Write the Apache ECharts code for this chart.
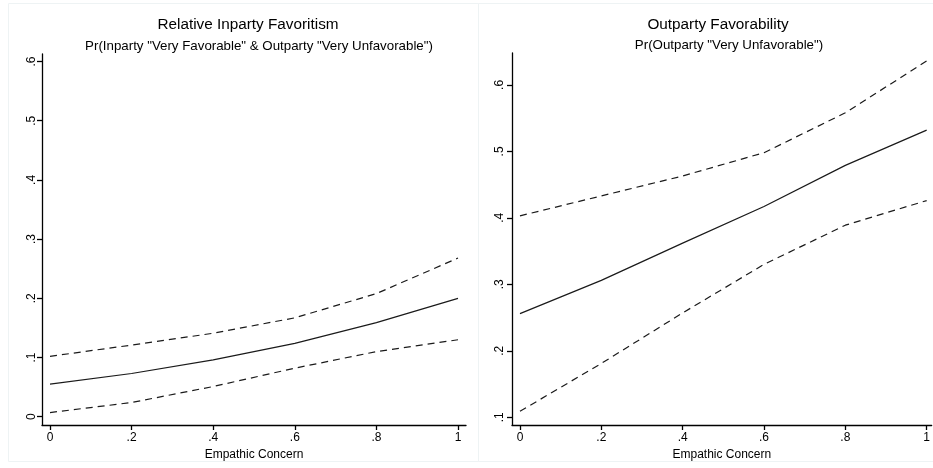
<!DOCTYPE html>
<html>
<head>
<meta charset="utf-8">
<script src="https://cdn.jsdelivr.net/npm/echarts@6/dist/echarts.min.js"></script>
<style>
html,body{margin:0;padding:0;background:#fff;}
#c{width:933px;height:468px;}
</style>
</head>
<body>
<div id="c"></div>
<script>
// Data
const xValues = [0, 0.2, 0.4, 0.6, 0.8, 1];
const xTicks = [0, 0.2, 0.4, 0.6, 0.8, 1];
const xTickLabels = ['0', '.2', '.4', '.6', '.8', '1'];

const leftEst   = [0.055, 0.073, 0.096, 0.124, 0.159, 0.200];
const leftUpper = [0.102, 0.121, 0.141, 0.167, 0.208, 0.268];
const leftLower = [0.007, 0.024, 0.051, 0.082, 0.110, 0.130];
const leftYTicks = [0, 0.1, 0.2, 0.3, 0.4, 0.5, 0.6];

const rightEst   = [0.256, 0.306, 0.362, 0.417, 0.479, 0.532];
const rightUpper = [0.403, 0.433, 0.463, 0.498, 0.558, 0.636];
const rightLower = [0.109, 0.181, 0.257, 0.330, 0.389, 0.426];
const rightYTicks = [0.1, 0.2, 0.3, 0.4, 0.5, 0.6];

const titles = ['Relative Inparty Favoritism', 'Outparty Favorability'];
const subtitles = ['Pr(Inparty "Very Favorable" & Outparty "Very Unfavorable")', 'Pr(Outparty "Very Unfavorable")'];
const xName = 'Empathic Concern';

function fmt(v){
  if (Math.abs(v) < 1e-9) return '0';
  if (Math.abs(v - 1) < 1e-9) return '1';
  return ('' + (Math.round(v*10)/10)).replace(/^0/, '');
}
const FONT = '"Liberation Sans", Arial, Helvetica, sans-serif';
const axisLineStyle = {color:'#000', width:1.3};

function xAxis(idx){
  return {
    type:'value', gridIndex: idx, min:-0.0196, max: idx===0 ? 1.0196 : 1.0123,
    name: xName, nameLocation:'middle', nameGap: 19,
    nameTextStyle:{fontFamily:FONT, fontSize:12, color:'#000'},
    axisLine:{show:true, onZero:false, lineStyle:axisLineStyle},
    axisTick:{show:true, length:5, lineStyle:axisLineStyle, customValues:xTicks},
    axisLabel:{fontFamily:FONT, fontSize:12, color:'#000', margin:7, customValues:xTicks,
      formatter: v => xTickLabels[xTicks.findIndex(t => Math.abs(t - v) < 1e-6)] ?? fmt(v)},
    splitLine:{show:false}
  };
}
function yAxis(idx, min, max, ticks, margin){
  return {
    type:'value', gridIndex: idx, min:min, max:max,
    axisLine:{show:true, onZero:false, lineStyle:axisLineStyle},
    axisTick:{show:true, length:5, lineStyle:axisLineStyle, customValues:ticks},
    axisLabel:{fontFamily:FONT, fontSize:12, color:'#000', margin:margin, rotate:90, customValues:ticks,
      formatter: v => fmt(v)},
    splitLine:{show:false}
  };
}
function line(idx, vals, dashed){
  return {
    type:'line', xAxisIndex:idx, yAxisIndex:idx,
    data: xValues.map((x,i)=>[x, vals[i]]),
    showSymbol:false, symbol:'none', silent:true, animation:false,
    lineStyle:{color:'#1a1a1a', width:1.2, type: dashed ? [7,5] : 'solid'}
  };
}

const chart = echarts.init(document.getElementById('c'), null, {renderer:'canvas'});
chart.setOption({
  backgroundColor:'#fff',
  animation:false,
  title:[
    {text:titles[0], left:243, top:12, textAlign:'center', textStyle:{fontFamily:FONT, fontSize:15.3, fontWeight:'normal', color:'#000'}},
    {text:subtitles[0], left:254, top:35, textAlign:'center', textStyle:{fontFamily:FONT, fontSize:13.3, fontWeight:'normal', color:'#000'}},
    {text:titles[1], left:713, top:12, textAlign:'center', textStyle:{fontFamily:FONT, fontSize:15.3, fontWeight:'normal', color:'#000'}},
    {text:subtitles[1], left:724, top:34, textAlign:'center', textStyle:{fontFamily:FONT, fontSize:13.3, fontWeight:'normal', color:'#000'}}
  ],
  graphic:[
    {type:'rect', shape:{x:8.5, y:3.5, width:470, height:458}, style:{fill:'none', stroke:'#eef3f4', lineWidth:1}, silent:true, z:-1},
    {type:'rect', shape:{x:478.5, y:3.5, width:470, height:458}, style:{fill:'none', stroke:'#eef3f4', lineWidth:1}, silent:true, z:-1}
  ],
  grid:[
    {left:42, top:54, width:424, height:371},
    {left:512, top:53, width:421, height:372}
  ],
  xAxis:[xAxis(0), xAxis(1)],
  yAxis:[yAxis(0, -0.014, 0.6127, leftYTicks, 4), yAxis(1, 0.0884, 0.648, rightYTicks, 6)],
  series:[
    line(0, leftUpper, true), line(0, leftEst, false), line(0, leftLower, true),
    line(1, rightUpper, true), line(1, rightEst, false), line(1, rightLower, true)
  ]
});
</script>
</body>
</html>
